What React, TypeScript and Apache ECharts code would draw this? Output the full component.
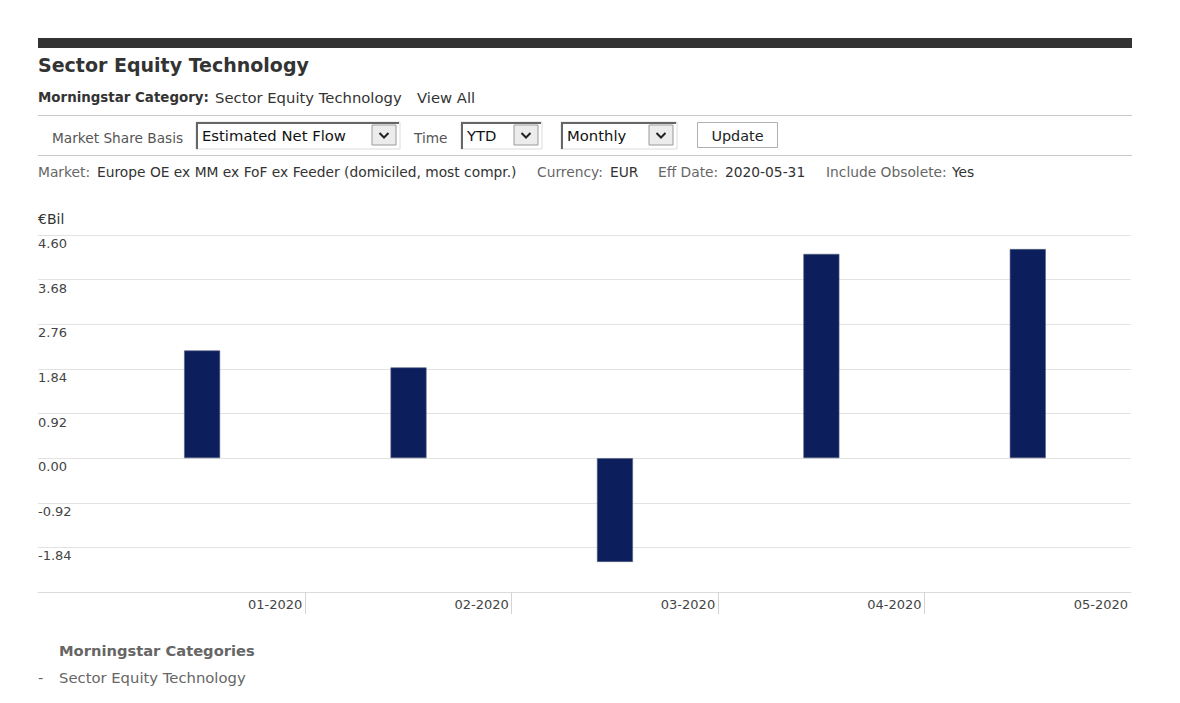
import React, { useEffect, useRef } from "react";
import * as echarts from "echarts";

const months = ["01-2020", "02-2020", "03-2020", "04-2020", "05-2020"];
const netFlow = [2.22, 1.87, -2.14, 4.21, 4.31];
const yMin = -2.76;
const yMax = 4.6;
const yStep = 0.92;

const FONT = "DejaVu Sans";

function txt(x: number, y: number, text: string, size: number, color: string, bold = false, align = "left") {
  return {
    type: "text",
    x,
    y,
    silent: true,
    style: {
      text,
      fill: color,
      font: `${bold ? "bold " : ""}${size}px "${FONT}"`,
      textAlign: align,
      textVerticalAlign: "middle",
      align,
      verticalAlign: "middle",
    },
  };
}

function selectBox(x: number, y: number, w: number, h: number, label: string) {
  const bx = x + w - 28;
  return [
    { type: "rect", shape: { x, y, width: w, height: h }, style: { fill: "#ffffff", stroke: "#dcdcdc", lineWidth: 1 }, silent: true },
    { type: "line", shape: { x1: x, y1: y + 1, x2: x + w - 1, y2: y + 1 }, style: { stroke: "#666", lineWidth: 2 }, silent: true },
    { type: "line", shape: { x1: x + 1, y1: y, x2: x + 1, y2: y + h }, style: { stroke: "#666", lineWidth: 2 }, silent: true },
    { type: "rect", shape: { x: bx, y: y + 3, width: 24, height: h - 7 }, style: { fill: "#ececec", stroke: "#9a9a9a", lineWidth: 1 }, silent: true },
    { type: "polyline", shape: { points: [[bx + 7.5, y + 11], [bx + 12, y + 15.5], [bx + 16.5, y + 11]] }, style: { stroke: "#222", lineWidth: 2, fill: null }, silent: true },
    txt(x + 6, y + h / 2, label, 14.8, "#111"),
  ];
}

export default function App() {
  const ref = useRef<HTMLDivElement>(null);
  useEffect(() => {
    const chart = echarts.init(ref.current!, null, { renderer: "svg" });
    const graphics: any[] = [
      { type: "rect", shape: { x: 38, y: 38, width: 1094, height: 10 }, style: { fill: "#333333" }, silent: true },
      txt(38, 65, "Sector Equity Technology", 19, "#333", true),
      txt(38, 97.5, "Morningstar Category:", 13.4, "#333", true),
      txt(215, 97.5, "Sector Equity Technology", 14.8, "#333"),
      txt(417, 97.5, "View All", 14.8, "#333"),
      { type: "line", shape: { x1: 38, y1: 115.5, x2: 1132, y2: 115.5 }, style: { stroke: "#c8c8c8", lineWidth: 1 }, silent: true },
      txt(52, 137.5, "Market Share Basis", 13.7, "#555"),
      ...selectBox(196, 122, 204, 27, "Estimated Net Flow"),
      txt(414, 137.5, "Time", 13.7, "#555"),
      ...selectBox(461, 122, 81, 27, "YTD"),
      ...selectBox(561, 122, 116, 27, "Monthly"),
      { type: "rect", shape: { x: 697.5, y: 122.5, width: 80, height: 25 }, style: { fill: "#fff", stroke: "#b0b0b0", lineWidth: 1 }, silent: true },
      txt(737.5, 135.5, "Update", 14.4, "#222", false, "center"),
      { type: "line", shape: { x1: 38, y1: 155.5, x2: 1132, y2: 155.5 }, style: { stroke: "#c8c8c8", lineWidth: 1 }, silent: true },
      txt(38, 172, "Market:", 13.8, "#666"),
      txt(97, 172, "Europe OE ex MM ex FoF ex Feeder (domiciled, most compr.)", 13.8, "#333"),
      txt(537, 172, "Currency:", 13.8, "#666"),
      txt(610, 172, "EUR", 13.8, "#333"),
      txt(658, 172, "Eff Date:", 13.8, "#666"),
      txt(725, 172, "2020-05-31", 13.8, "#333"),
      txt(826, 172, "Include Obsolete:", 13.8, "#666"),
      txt(952, 172, "Yes", 13.8, "#333"),
      txt(38, 219, "€Bil", 14, "#333"),
      txt(59, 650.5, "Morningstar Categories", 14.7, "#666", true),
      txt(38, 677, "-", 14.8, "#666"),
      txt(59, 677, "Sector Equity Technology", 14.8, "#666"),
    ];
    chart.setOption({
      animation: false,
      textStyle: { fontFamily: FONT },
      grid: { left: 38, right: 49, top: 235, bottom: 111, containLabel: false },
      xAxis: {
        type: "value",
        min: -0.295,
        max: 5,
        axisLine: { show: true, onZero: false, lineStyle: { color: "#dcdcdc", width: 1 } },
        axisTick: { show: true, customValues: [1, 2, 3, 4], length: 22, lineStyle: { color: "#d4d4d4" } },
        axisLabel: {
          customValues: [1, 2, 3, 4, 5],
          formatter: (v: number) => months[Math.round(v) - 1] ?? "",
          align: "right",
          verticalAlign: "top",
          margin: 6,
          padding: [0, 3, 0, 0],
          color: "#444",
          fontSize: 13,
          fontFamily: FONT,
        },
        splitLine: { show: false },
      },
      yAxis: {
        type: "value",
        min: yMin,
        max: yMax,
        interval: yStep,
        axisLine: { show: false },
        axisTick: { show: false },
        splitLine: { lineStyle: { color: "#e2e2e2", width: 1 } },
        axisLabel: {
          inside: true,
          margin: 0,
          align: "left",
          verticalAlign: "top",
          padding: [2, 0, 0, 0],
          showMinLabel: false,
          formatter: (v: number) => (Math.abs(v - yMin) < 1e-6 ? "" : v.toFixed(2)),
          color: "#444",
          fontSize: 13,
          fontFamily: FONT,
        },
      },
      series: [
        {
          type: "bar",
          barWidth: 36,
          data: netFlow.map((v, i) => [i + 0.5, v]),
          itemStyle: { color: "#0c1f5c", borderColor: "#56627f", borderWidth: 0.6 },
        },
      ],
      graphic: graphics,
    });
    return () => chart.dispose();
  }, []);
  return <div ref={ref} style={{ position: "absolute", left: 0, top: 0, width: 1180, height: 703 }} />;
}
